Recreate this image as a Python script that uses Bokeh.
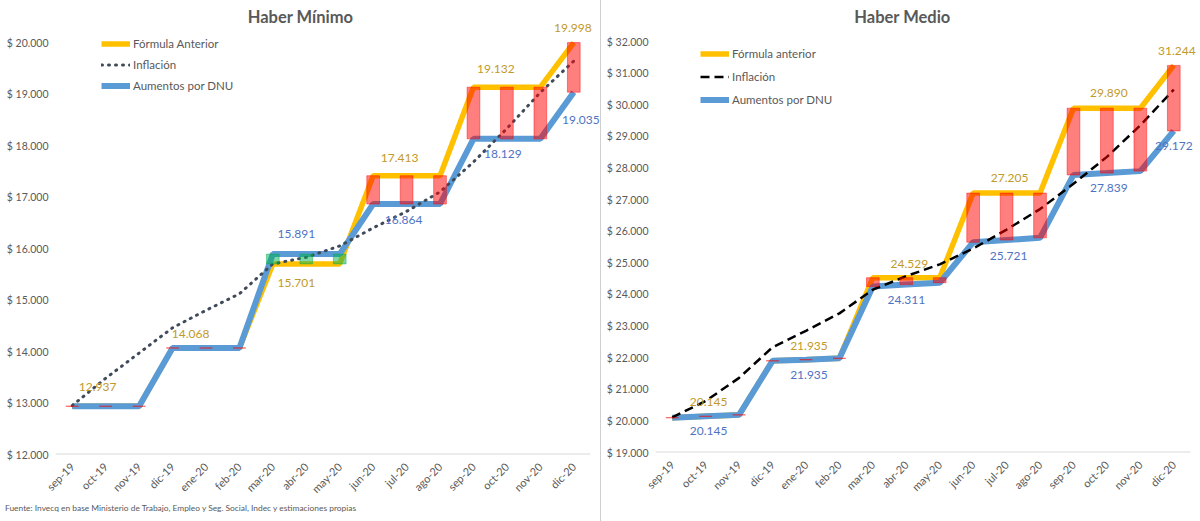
import math
from bokeh.plotting import figure
from bokeh.models import (Range1d, FixedTicker, Legend, LegendItem, Label,
                          Div, ColumnDataSource)
from bokeh.layouts import row, column
from bokeh.embed import file_html
from bokeh.resources import INLINE
from bokeh.core.properties import value

# ---------------- data ----------------
months = ["sep-19", "oct-19", "nov-19", "dic-19", "ene-20", "feb-20", "mar-20", "abr-20",
          "may-20", "jun-20", "jul-20", "ago-20", "sep-20", "oct-20", "nov-20", "dic-20"]

# Haber Mínimo
min_formula = [12937, 12937, 12937, 14068, 14068, 14068, 15701, 15701, 15701,
               17413, 17413, 17413, 19132, 19132, 19132, 19998]
min_dnu = [12937, 12937, 12937, 14068, 14068, 14068, 15891, 15891, 15891,
           16864, 16864, 16864, 18129, 18129, 18129, 19035]
min_infl = [12950, 13480, 13970, 14460, 14800, 15120, 15700, 15830, 16050,
            16400, 16720, 17100, 17680, 18330, 19030, 19640]
min_ticks = [12000, 13000, 14000, 15000, 16000, 17000, 18000, 19000, 20000]

# Haber Medio
med_formula = [20100, 20145, 20190, 21900, 21935, 21980, 24529, 24529, 24529,
               27205, 27205, 27205, 29890, 29890, 29890, 31244]
med_dnu = [20100, 20145, 20190, 21900, 21935, 21980, 24250, 24311, 24370,
           25650, 25721, 25790, 27780, 27839, 27900, 29172]
med_infl = [20110, 20630, 21360, 22330, 22850, 23400, 24150, 24580, 24950,
            25450, 26050, 26700, 27500, 28350, 29350, 30480]
med_ticks = [19000, 20000, 21000, 22000, 23000, 24000, 25000, 26000, 27000,
             28000, 29000, 30000, 31000, 32000]

# which points carry a data label
min_formula_lbl = [1, 3, 7, 10, 13, 15]
min_dnu_lbl = [7, 10, 13, 15]
med_formula_lbl = [1, 4, 7, 10, 13, 15]
med_dnu_lbl = [1, 4, 7, 10, 13, 15]

# label offsets in screen px (style)
min_formula_off = [(-8, -19), (18, -14), (-10, 19), (-7, -18), (-11, -18), (-1, -15)]
min_dnu_off = [(-10, -20), (-3, 16), (-4, 15), (7, 28)]
med_formula_off = [(3, -14), (3, -14), (3, -14), (3, -15), (2, -15), (3, -14)]
med_dnu_off = [(3, 15), (3, 15), (0, 15), (2, 16), (2, 15), (0, 15)]

source_text = ("Fuente: Invecq en base Ministerio de Trabajo, Empleo y Seg. Social, "
               "Indec y estimaciones propias")

ORANGE = "#FFC000"
BLUE = "#5B9BD5"
GREY = "#595959"
LBL_OR = "#C29A2A"
LBL_BL = "#4F73C3"
FONT = "Lato"


def fmt(v):
    return f"{v:,}".replace(",", ".")


def make_chart(title, formula, dnu, infl, ticks, f_lbl, d_lbl, f_off, d_off,
               infl_dash, infl_cap, infl_color, infl_width, legend_names,
               fig_w, fig_h, border_left, axis_w, frame_h,
               y_lo, y_hi_tick, y_hi_px, legend_pitch, legend_top, legend_x,
               title_cx):
    n = len(months)
    idx = list(range(n))
    step = axis_w / n
    extra = fig_w - border_left - axis_w          # room right of the axis end
    ppu = (frame_h - y_hi_px) / (y_hi_tick - y_lo)
    y_top = y_hi_tick + y_hi_px / ppu

    p = figure(width=fig_w, height=fig_h,
               frame_width=axis_w + extra, frame_height=frame_h,
               min_border_left=border_left, min_border_right=0,
               min_border_top=0, min_border_bottom=fig_h - frame_h,
               x_range=Range1d(-0.5, n - 0.5 + extra / step), y_range=Range1d(y_lo, y_top),
               output_backend="svg", toolbar_location=None)
    p.outline_line_color = None
    p.xgrid.visible = False
    p.ygrid.visible = False
    p.background_fill_color = "white"
    p.border_fill_color = "white"

    # axes
    p.xaxis.ticker = FixedTicker(ticks=idx)
    p.xaxis.major_label_overrides = {i: m for i, m in enumerate(months)}
    p.xaxis.major_label_orientation = math.pi / 4
    p.xaxis.axis_line_color = None
    p.xaxis.major_tick_line_color = None
    p.xaxis.minor_tick_line_color = None
    p.xaxis.major_label_text_color = GREY
    p.xaxis.major_label_text_font = FONT
    p.xaxis.major_label_text_font_size = "11px"
    p.xaxis.major_label_standoff = 4

    p.yaxis.ticker = FixedTicker(ticks=ticks)
    p.yaxis.major_label_overrides = {t: "$ " + fmt(t) for t in ticks}
    p.yaxis.axis_line_color = None
    p.yaxis.major_tick_line_color = None
    p.yaxis.minor_tick_line_color = None
    p.yaxis.major_tick_out = 0
    p.yaxis.major_tick_in = 0
    p.yaxis.major_label_text_color = GREY
    p.yaxis.major_label_text_font = FONT
    p.yaxis.major_label_text_font_size = "10.5px"
    p.yaxis.major_label_standoff = 7

    # category-axis baseline (spans the category band only)
    p.segment(x0=[-0.5], x1=[n - 0.5], y0=[y_lo], y1=[y_lo],
              line_color="#D9D9D9", line_width=2)

    # lines
    r_f = p.line(idx, formula, line_color=ORANGE, line_width=5.5)
    r_d = p.line(idx, dnu, line_color=BLUE, line_width=6)
    r_i = p.line(idx, infl, line_color=infl_color, line_width=infl_width,
                 line_dash=infl_dash, line_cap=infl_cap)

    # difference bars
    bottoms = [min(a, b) for a, b in zip(formula, dnu)]
    tops = [max(a, b) for a, b in zip(formula, dnu)]
    cols = ["#FF0000" if a >= b else "#00B050" for a, b in zip(formula, dnu)]
    src = ColumnDataSource(dict(x=idx, bottom=bottoms, top=tops, color=cols))
    p.vbar(x="x", width=0.38, bottom="bottom", top="top", source=src,
           fill_color="color", fill_alpha=0.5, line_color="color", line_alpha=0.45,
           line_width=1)

    # data labels
    def labels(lbl_idx, series, offs, color):
        s = ColumnDataSource(dict(
            x=lbl_idx, y=[series[i] for i in lbl_idx],
            t=[fmt(series[i]) for i in lbl_idx],
            dx=[o[0] for o in offs], dy=[o[1] for o in offs]))
        p.text(x="x", y="y", text="t", x_offset="dx", y_offset="dy", source=s,
               text_align="center", text_baseline="middle", text_color=color,
               text_font=value(FONT), text_font_size="12px")

    labels(f_lbl, formula, f_off, LBL_OR)
    labels(d_lbl, dnu, d_off, LBL_BL)

    # title (centered over whole chart area)
    tx = (title_cx - border_left) / step - 0.5
    ty = y_top - 16 / ppu
    p.add_layout(Label(x=tx, y=ty, text=title, text_align="center",
                       text_baseline="middle", text_font=FONT, text_font_size="16.5px",
                       text_font_style="bold", text_color=GREY))

    # legend
    lh = legend_pitch - 2
    leg = Legend(items=[LegendItem(label=legend_names[0], renderers=[r_f]),
                        LegendItem(label=legend_names[1], renderers=[r_i]),
                        LegendItem(label=legend_names[2], renderers=[r_d])],
                 location=(legend_x, frame_h - (legend_top + 3 * lh + 4)),
                 orientation="vertical", padding=0, margin=0, spacing=2,
                 glyph_width=29, glyph_height=int(lh), label_height=int(lh),
                 label_standoff=3, label_text_font=FONT, label_text_font_size="11.5px",
                 label_text_color=GREY, background_fill_alpha=0, border_line_alpha=0)
    p.add_layout(leg)
    return p


p1 = make_chart("Haber Mínimo", min_formula, min_dnu, min_infl, min_ticks,
                min_formula_lbl, min_dnu_lbl, min_formula_off, min_dnu_off,
                "1 6", "round", "#404B5A", 3,
                ["Fórmula Anterior", "Inflación", "Aumentos por DNU"],
                fig_w=600, fig_h=492, border_left=55, axis_w=535, frame_h=454,
                y_lo=12000, y_hi_tick=20000, y_hi_px=42,
                legend_pitch=21.5, legend_top=32, legend_x=46, title_cx=300)

source_div = Div(text=source_text, width=600, height=29, margin=0,
                 styles={"font-family": FONT, "font-size": "8.4px", "color": GREY,
                         "padding-left": "5px", "padding-top": "0px",
                         "line-height": "12px", "white-space": "nowrap"})

p2 = make_chart("Haber Medio", med_formula, med_dnu, med_infl, med_ticks,
                med_formula_lbl, med_dnu_lbl, med_formula_off, med_dnu_off,
                "9 5", "butt", "#000000", 2.5,
                ["Fórmula anterior", "Inflación", "Aumentos por DNU"],
                fig_w=599, fig_h=521, border_left=54, axis_w=535, frame_h=452,
                y_lo=19000, y_hi_tick=32000, y_hi_px=41,
                legend_pitch=23.5, legend_top=41, legend_x=45, title_cx=301)

divider = Div(text="", width=1, height=521, margin=0,
              styles={"background-color": "#D0D0D0"})

layout = row(column(p1, source_div, spacing=0), divider, p2, spacing=0)
open("out.html", "w").write(file_html(layout, INLINE))
